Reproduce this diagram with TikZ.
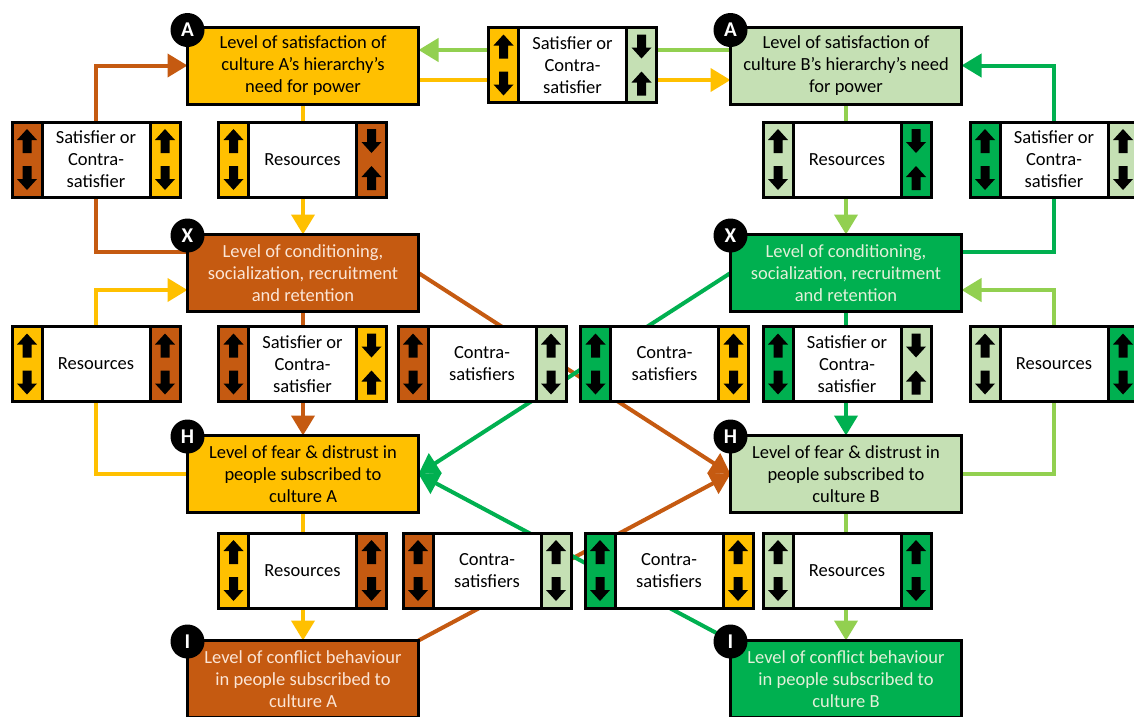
\documentclass[tikz,border=0pt]{standalone}
\usepackage{fontspec}
\setmainfont{Carlito}
\usetikzlibrary{arrows.meta,backgrounds,calc}
\definecolor{yel}{HTML}{FFC000}
\definecolor{brn}{HTML}{C55A11}
\definecolor{lgf}{HTML}{C5E0B4}
\definecolor{grn}{HTML}{00B050}
\definecolor{lgrn}{HTML}{92D050}
\definecolor{peach}{HTML}{FBE5D6}
\definecolor{mint}{HTML}{E2F0D9}
\newcommand\uarr[2]{\fill[black,shift={(#1,#2)}] (0,-12) -- (10,-1) -- (4.5,-1) -- (4.5,12) -- (-4.5,12) -- (-4.5,-1) -- (-10,-1) -- cycle;}
\newcommand\darr[2]{\fill[black,shift={(#1,#2)}] (0,12) -- (10,1) -- (4.5,1) -- (4.5,-12) -- (-4.5,-12) -- (-4.5,1) -- (-10,1) -- cycle;}
\newcommand\RUD{\uarr{153}{19}\darr{153}{56}}
\newcommand\RDU{\darr{153}{19}\uarr{153}{56}}
\newcommand\labbox[7]{%
  \node[labnode] (#1) at (#2,#3) {#7};
  \begin{scope}[shift={(#1.north west)}]
    \fill[#4] (0,0) rectangle (30,75);
    \fill[#5] (138,0) rectangle (168,75);
    \draw[line width=3pt] (30,0) -- (30,75) (138,0) -- (138,75);
    \draw[line width=3pt] (0,0) rectangle (168,75);
    \uarr{15}{19}\darr{15}{56}
    #6
  \end{scope}}
\begin{document}
\begin{tikzpicture}[x=1pt,y=-1pt,
  labnode/.style={rectangle, minimum width=168pt, minimum height=75pt, fill=white,
    inner sep=0pt, outer sep=0pt, align=center, font=\fontsize{18.5}{22}\selectfont},
  mainbox/.style={rectangle, draw=black, line width=3pt, minimum width=231pt,
    minimum height=77pt, inner sep=0pt, outer sep=0pt, align=center,
    font=\fontsize{18.5}{22}\selectfont},
  badge/.style={circle, fill=black, minimum size=34pt, inner sep=0pt, text=white,
    font=\fontsize{21}{21}\selectfont\bfseries},
  conn/.style={line width=4pt, -{Triangle[length=20pt,width=23pt]}}]
\useasboundingbox (0,0) rectangle (1134,716);
% main boxes
\node[mainbox, fill=yel] (AL) at (303,65.5) {Level of satisfaction of\\culture A’s hierarchy’s\\need for power};
\node[mainbox, fill=lgf] (AR) at (846,65.5) {Level of satisfaction of\\culture B’s hierarchy’s need\\for power};
\node[mainbox, fill=brn, text=peach] (XL) at (303,273) {Level of conditioning,\\socialization, recruitment\\and retention};
\node[mainbox, fill=grn, text=mint] (XR) at (846,273) {Level of conditioning,\\socialization, recruitment\\and retention};
\node[mainbox, fill=yel] (HL) at (303,474) {Level of fear \& distrust in\\people subscribed to\\culture A};
\node[mainbox, fill=lgf] (HR) at (846,474) {Level of fear \& distrust in\\people subscribed to\\culture B};
\node[mainbox, fill=brn, text=peach] (IL) at (303,679) {Level of conflict behaviour\\in people subscribed to\\culture A};
\node[mainbox, fill=grn, text=mint] (IR) at (846,679) {Level of conflict behaviour\\in people subscribed to\\culture B};
% label boxes
\labbox{S1}{96}{159.5}{brn}{yel}{\RUD}{Satisfier or\\Contra-\\satisfier}
\labbox{R1}{302.5}{159.5}{yel}{brn}{\RDU}{Resources}
\labbox{T}{572.5}{65}{yel}{lgf}{\RDU}{Satisfier or\\Contra-\\satisfier}
\labbox{R2}{847}{159.5}{lgf}{grn}{\RDU}{Resources}
\labbox{S2}{1054}{159.5}{grn}{lgf}{\RUD}{Satisfier or\\Contra-\\satisfier}
\labbox{R3}{96}{364}{yel}{brn}{\RUD}{Resources}
\labbox{S3}{302.5}{364}{brn}{yel}{\RDU}{Satisfier or\\Contra-\\satisfier}
\labbox{C1}{482}{364}{brn}{lgf}{\RUD}{Contra-\\satisfiers}
\labbox{C2}{664.5}{364}{grn}{yel}{\RUD}{Contra-\\satisfiers}
\labbox{S4}{847}{364}{grn}{lgf}{\RDU}{Satisfier or\\Contra-\\satisfier}
\labbox{R4}{1054}{364}{lgf}{grn}{\RUD}{Resources}
\labbox{R5}{302.5}{570.5}{yel}{brn}{\RUD}{Resources}
\labbox{C3}{487}{570.5}{brn}{lgf}{\RUD}{Contra-\\satisfiers}
\labbox{C4}{669}{570.5}{grn}{yel}{\RUD}{Contra-\\satisfiers}
\labbox{R6}{847}{570.5}{lgf}{grn}{\RUD}{Resources}
% badges
\node[badge] (bAL) at ([yshift=-3pt]AL.north west) {A};
\node[badge] (bAR) at ([yshift=-3pt]AR.north west) {A};
\node[badge] (bXL) at ([yshift=-1pt]XL.north west) {X};
\node[badge] (bXR) at ([yshift=-1pt]XR.north west) {X};
\node[badge] (bHL) at ([yshift=-1pt]HL.north west) {H};
\node[badge] (bHR) at ([yshift=-1pt]HR.north west) {H};
\node[badge] (bIL) at ([yshift=-1pt]IL.north west) {I};
\node[badge] (bIR) at ([yshift=-1pt]IR.north west) {I};
% connectors
\begin{pgfonlayer}{background}
\fill[white] (0,0) rectangle (1134,716);
\draw[conn, yel] (AL.south) -- (XL.north);
\draw[conn, brn] ([yshift=21pt]XL.west) -| (S1.center) |- (AL.west);
\draw[conn, yel] (HL.west) -| (R3.center) |- ([yshift=-17pt]XL.west);
\draw[conn, brn] (XL.south) -- (HL.north);
\draw[conn, yel] (HL.south) -- (IL.north);
\draw[conn, brn] (XL.east) -- (HR.west);
\draw[conn, grn] (XR.west) -- (HL.east);
\draw[conn, brn] (IL.north east) -- (HR.west);
\draw[conn, grn] (IR.north west) -- (HL.east);
\draw[conn, lgrn] ([yshift=15.5pt]AR.west) -- ([yshift=15.5pt]AL.east);
\draw[conn, yel] ([yshift=-14.5pt]AL.east) -- ([yshift=-14.5pt]AR.west);
\draw[conn, lgrn] (AR.south) -- (XR.north);
\draw[conn, grn] ([yshift=21pt]XR.east) -| (S2.center) |- (AR.east);
\draw[conn, lgrn] (HR.east) -| (R4.center) |- ([yshift=-17pt]XR.east);
\draw[conn, grn] (XR.south) -- (HR.north);
\draw[conn, lgrn] (HR.south) -- (IR.north);
\end{pgfonlayer}
\end{tikzpicture}
\end{document}
